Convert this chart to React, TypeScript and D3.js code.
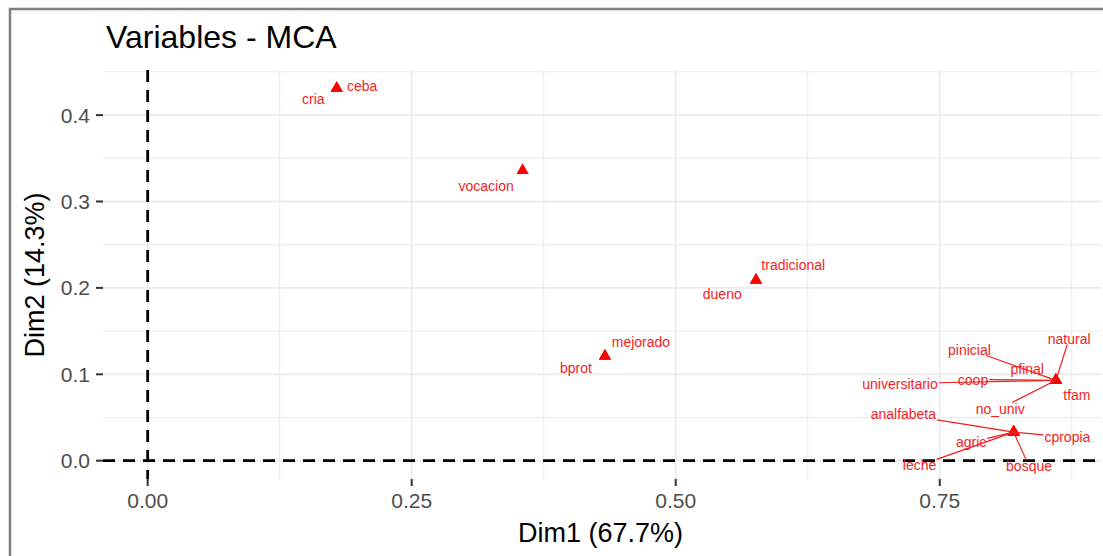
import React, { useEffect, useRef } from 'react';
import * as d3 from 'd3';

// MCA variable coordinates (Dim1, Dim2)
const variables = [
  'ceba', 'cria', 'vocacion', 'tradicional', 'dueno', 'mejorado', 'bprot',
  'natural', 'pinicial', 'pfinal', 'coop', 'universitario', 'tfam', 'no_univ',
  'analfabeta', 'cpropia', 'agric', 'leche', 'bosque',
];
const dim1 = [
  0.179, 0.179, 0.355, 0.576, 0.576, 0.433, 0.433,
  0.860, 0.860, 0.860, 0.860, 0.860, 0.860, 0.860,
  0.820, 0.820, 0.820, 0.820, 0.820,
];
const dim2 = [
  0.431, 0.431, 0.336, 0.209, 0.209, 0.121, 0.121,
  0.093, 0.093, 0.093, 0.093, 0.093, 0.093, 0.093,
  0.033, 0.033, 0.033, 0.033, 0.033,
];

const xTicks = [0, 0.25, 0.5, 0.75];
const xTickLabels = ['0.00', '0.25', '0.50', '0.75'];
const yTicks = [0, 0.1, 0.2, 0.3, 0.4];
const yTickLabels = ['0.0', '0.1', '0.2', '0.3', '0.4'];
const xMinor = [0.125, 0.375, 0.625, 0.875];
const yMinor = [0.05, 0.15, 0.25, 0.35, 0.45];

// repelled label placement: offset (px) of label centre from its point
const labelDx = [25.5, -23.4, -36.4, 37.3, -33.7, 36, -29.1, 13.3, -86.5, -28.7, -82.9, -155.9, 21, -55.7, -110.3, 53.7, -42.5, -94.1, 15.4];
const labelDy = [-2.5, 10.8, 15.9, -15.1, 13.9, -14.4, 12.2, -41.8, -30.8, -11.8, -0.8, 3.2, 14.9, 28.2, -17.8, 4.9, 9.9, 33.2, 34.2];

const FONT = '"Liberation Sans", Arial, Helvetica, sans-serif';

export default function App() {
  const chartRef = useRef<SVGSVGElement>(null);

  useEffect(() => {
    const width = 1103;
    const height = 556;
    const panel = { left: 103, right: 1101, top: 70, bottom: 479 };

    const svg = d3.select(chartRef.current);
    svg.selectAll('*').remove();
    svg.attr('width', width).attr('height', height);

    svg.append('rect').attr('width', width).attr('height', height).attr('fill', '#fff');

    const x = d3.scaleLinear().domain([-0.0423, 0.9027]).range([panel.left, panel.right]);
    const y = d3.scaleLinear().domain([-0.0212, 0.4522]).range([panel.bottom, panel.top]);

    const grid = svg.append('g');
    // minor grid
    grid.selectAll('.vminor').data(xMinor).enter().append('line')
      .attr('x1', d => x(d)).attr('x2', d => x(d))
      .attr('y1', panel.top).attr('y2', panel.bottom)
      .attr('stroke', '#ebebeb').attr('stroke-width', 1);
    grid.selectAll('.hminor').data(yMinor).enter().append('line')
      .attr('y1', d => y(d)).attr('y2', d => y(d))
      .attr('x1', panel.left).attr('x2', panel.right)
      .attr('stroke', '#ebebeb').attr('stroke-width', 1);
    // major grid
    grid.selectAll('.vmajor').data(xTicks).enter().append('line')
      .attr('x1', d => x(d)).attr('x2', d => x(d))
      .attr('y1', panel.top).attr('y2', panel.bottom)
      .attr('stroke', '#ebebeb').attr('stroke-width', 1.8);
    grid.selectAll('.hmajor').data(yTicks).enter().append('line')
      .attr('y1', d => y(d)).attr('y2', d => y(d))
      .attr('x1', panel.left).attr('x2', panel.right)
      .attr('stroke', '#ebebeb').attr('stroke-width', 1.8);

    // origin lines
    svg.append('line')
      .attr('x1', panel.left).attr('x2', panel.right)
      .attr('y1', y(0)).attr('y2', y(0))
      .attr('stroke', '#000').attr('stroke-width', 2.8)
      .attr('stroke-dasharray', '12,8');
    svg.append('line')
      .attr('x1', x(0)).attr('x2', x(0))
      .attr('y1', panel.top).attr('y2', panel.bottom)
      .attr('stroke', '#000').attr('stroke-width', 2.8)
      .attr('stroke-dasharray', '12,8');

    // axis ticks + labels
    xTicks.forEach((t, i) => {
      svg.append('line')
        .attr('x1', x(t)).attr('x2', x(t))
        .attr('y1', panel.bottom).attr('y2', panel.bottom + 7)
        .attr('stroke', '#333').attr('stroke-width', 2);
      svg.append('text')
        .attr('x', x(t)).attr('y', 508)
        .attr('text-anchor', 'middle')
        .attr('font-family', FONT).attr('font-size', 21)
        .attr('fill', '#4d4d4d')
        .text(xTickLabels[i]);
    });
    yTicks.forEach((t, i) => {
      svg.append('line')
        .attr('x1', panel.left - 7).attr('x2', panel.left)
        .attr('y1', y(t)).attr('y2', y(t))
        .attr('stroke', '#333').attr('stroke-width', 2);
      svg.append('text')
        .attr('x', 90).attr('y', y(t))
        .attr('text-anchor', 'end')
        .attr('dominant-baseline', 'central')
        .attr('font-family', FONT).attr('font-size', 21)
        .attr('fill', '#4d4d4d')
        .text(yTickLabels[i]);
    });

    // titles
    svg.append('text')
      .attr('x', 106).attr('y', 48)
      .attr('font-family', FONT).attr('font-size', 32)
      .attr('fill', '#000')
      .text('Variables - MCA');
    svg.append('text')
      .attr('x', 600.5).attr('y', 542)
      .attr('text-anchor', 'middle')
      .attr('font-family', FONT).attr('font-size', 27)
      .attr('fill', '#000')
      .text('Dim1 (67.7%)');
    svg.append('text')
      .attr('transform', 'translate(44, 275) rotate(-90)')
      .attr('text-anchor', 'middle')
      .attr('font-family', FONT).attr('font-size', 27)
      .attr('fill', '#000')
      .text('Dim2 (14.3%)');

    // points (filled triangles, R pch 17 geometry)
    const r = 7.1;
    const tri = (cx: number, cy: number) => {
      const hw = r * Math.sqrt(3) / 2;
      return `M${cx},${cy - r}L${cx + hw},${cy + r / 2}L${cx - hw},${cy + r / 2}Z`;
    };
    svg.append('g').selectAll('path')
      .data(variables).enter().append('path')
      .attr('d', (d, i) => tri(x(dim1[i]), y(dim2[i])))
      .attr('fill', '#f00');

    // labels + repel segments (only long ones are drawn, like ggrepel)
    const segG = svg.append('g');
    const txtG = svg.append('g');
    variables.forEach((name, i) => {
      const px = x(dim1[i]);
      const py = y(dim2[i]);
      const cx = px + labelDx[i];
      const cy = py + labelDy[i];
      const txt = txtG.append('text')
        .attr('x', cx).attr('y', cy)
        .attr('text-anchor', 'middle')
        .attr('dominant-baseline', 'central')
        .attr('font-family', FONT).attr('font-size', 14)
        .attr('fill', '#f01e1e')
        .text(name);
      const bb = (txt.node() as SVGTextElement).getBBox();
      const hw = bb.width / 2 + 1;
      const hh = 6;
      const vx = px - cx;
      const vy = py - cy;
      const t = Math.min(
        vx === 0 ? Infinity : hw / Math.abs(vx),
        vy === 0 ? Infinity : hh / Math.abs(vy)
      );
      if (t >= 1) return;
      const sx = cx + vx * t;
      const sy = cy + vy * t;
      if (Math.hypot(px - sx, py - sy) < 27) return;
      segG.append('line')
        .attr('x1', sx).attr('y1', sy)
        .attr('x2', px).attr('y2', py)
        .attr('stroke', '#f01e1e').attr('stroke-width', 1.2);
    });

    // outer frame
    svg.append('rect')
      .attr('x', 10).attr('y', 9)
      .attr('width', 1120).attr('height', 600)
      .attr('fill', 'none')
      .attr('stroke', '#808080').attr('stroke-width', 2.5);
  }, []);

  return <svg ref={chartRef} style={{ position: 'absolute', left: 0, top: 0, display: 'block' }} />;
}
